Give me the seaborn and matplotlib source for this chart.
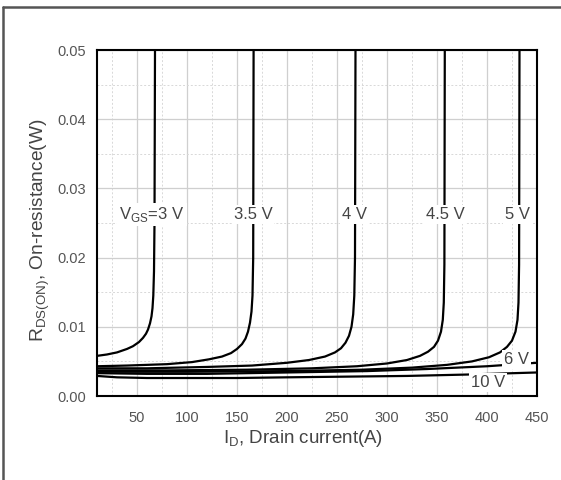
import numpy as np
import pandas as pd
import seaborn as sns
import matplotlib
matplotlib.use("Agg")
import matplotlib.pyplot as plt
from matplotlib.lines import Line2D
from matplotlib.ticker import MultipleLocator, FormatStrFormatter

# On-resistance vs drain current for several gate voltages
i_3v0 = [10, 20, 30, 40, 46, 52, 56, 59, 61, 63, 64.5, 65.5, 66.3, 67, 67.5, 68]
r_3v0 = [0.0058, 0.0060, 0.0063, 0.0068, 0.0072, 0.0078, 0.0084, 0.0090, 0.0096, 0.0105,
         0.0115, 0.0127, 0.0145, 0.018, 0.025, 0.050]

i_3v5 = [10, 40, 80, 105, 122, 135, 144, 150, 155, 158.5, 161, 163, 164.5, 165.5, 166.2, 166.6]
r_3v5 = [0.0043, 0.0044, 0.0046, 0.0049, 0.0053, 0.0057, 0.0062, 0.0068, 0.0075, 0.0083,
         0.0093, 0.0106, 0.0122, 0.0145, 0.020, 0.050]

i_4v0 = [10, 60, 120, 165, 200, 222, 238, 248, 254, 258.5, 262, 264.5, 266.2, 267.3, 268, 268.5]
r_4v0 = [0.0040, 0.0040, 0.0042, 0.0044, 0.0048, 0.0052, 0.0057, 0.0063, 0.0069, 0.0077,
         0.0087, 0.0100, 0.0118, 0.0145, 0.020, 0.050]

i_4v5 = [10, 80, 160, 225, 270, 300, 320, 333, 341, 347, 351, 354, 355.8, 356.8, 357.4, 357.8]
r_4v5 = [0.0037, 0.0037, 0.0038, 0.0040, 0.0043, 0.0047, 0.0052, 0.0058, 0.0064, 0.0071,
         0.0080, 0.0093, 0.0110, 0.0135, 0.019, 0.050]

i_5v0 = [10, 100, 200, 275, 325, 360, 385, 402, 413, 420, 425, 428.5, 430.5, 431.5, 432.1, 432.5]
r_5v0 = [0.0035, 0.0035, 0.0036, 0.0038, 0.0041, 0.0045, 0.0050, 0.0056, 0.0063, 0.0071,
         0.0080, 0.0093, 0.0110, 0.0135, 0.019, 0.050]

i_6v0 = [10, 60, 120, 200, 280, 340, 400, 450]
r_6v0 = [0.0033, 0.0032, 0.0032, 0.0034, 0.0036, 0.0039, 0.0043, 0.0048]

i_10v = [10, 30, 60, 100, 150, 200, 260, 320, 380, 450]
r_10v = [0.0029, 0.0027, 0.0026, 0.0026, 0.0026, 0.0027, 0.0028, 0.0029, 0.0031, 0.0034]

series = [("3", i_3v0, r_3v0), ("3.5", i_3v5, r_3v5), ("4", i_4v0, r_4v0),
          ("4.5", i_4v5, r_4v5), ("5", i_5v0, r_5v0), ("6", i_6v0, r_6v0),
          ("10", i_10v, r_10v)]

frames = [pd.DataFrame({"vgs": name, "current": xs, "rdson": ys}) for name, xs, ys in series]
df = pd.concat(frames, ignore_index=True)

sns.set_style("white")
plt.rcParams["font.family"] = ["Liberation Sans", "DejaVu Sans"]

fig = plt.figure(figsize=(5.61, 4.80), dpi=100)
ax = fig.add_axes([0.1729, 0.175, 0.7843, 0.7208])

sns.lineplot(data=df, x="current", y="rdson", hue="vgs", palette=["black"] * len(series),
             sort=False, estimator=None, legend=False, linewidth=1.6, ax=ax)

ax.set_xlim(10, 450)
ax.set_ylim(0, 0.05)
ax.xaxis.set_major_locator(MultipleLocator(50))
ax.xaxis.set_minor_locator(MultipleLocator(25))
ax.yaxis.set_major_locator(MultipleLocator(0.01))
ax.yaxis.set_minor_locator(MultipleLocator(0.005))
ax.yaxis.set_major_formatter(FormatStrFormatter("%.2f"))

ax.grid(which="major", color="#cfcfcf", linewidth=0.9, linestyle="-")
ax.grid(which="minor", color="#d8d8d8", linewidth=0.7, linestyle=(0, (2, 2)))
ax.set_axisbelow(True)

for sp in ax.spines.values():
    sp.set_color("black")
    sp.set_linewidth(1.5)

ax.tick_params(which="major", direction="out", length=5, width=1.2, color="black",
               labelsize=10.5, labelcolor="#555555")
ax.tick_params(which="minor", direction="out", length=3, width=1.0, color="black")
ax.tick_params(axis="x", which="major", pad=6)
ax.tick_params(axis="y", which="major", pad=3)

ax.set_xlabel("I$_\\mathregular{D}$, Drain current(A)", fontsize=13.5, color="#444444", labelpad=2)
ax.set_ylabel("R$_\\mathregular{DS(ON)}$, On-resistance(W)", fontsize=13.8, color="#444444", labelpad=4)
ax.xaxis.label.set_x(0.468)
ax.yaxis.label.set_y(0.48)

box = dict(facecolor="white", edgecolor="none", pad=1.5)
labels = [("V$_\\mathregular{GS}$=3 V", 65, 0.0262),
          ("3.5 V", 166, 0.0262),
          ("4 V", 268, 0.0262),
          ("4.5 V", 358, 0.0262),
          ("5 V", 431, 0.0262),
          ("6 V", 430, 0.0053),
          ("10 V", 401, 0.0020)]
for txt, x, y in labels:
    ax.text(x, y, txt, ha="center", va="center", fontsize=12, color="#444444", bbox=box, zorder=5)

# outer frame edges
fig.add_artist(Line2D([3 / 561, 1], [1 - 7 / 480, 1 - 7 / 480], transform=fig.transFigure,
                      color="#555555", linewidth=1.8))
fig.add_artist(Line2D([3 / 561, 3 / 561], [0, 1 - 7 / 480], transform=fig.transFigure,
                      color="#555555", linewidth=1.8))

fig.savefig("out.png", dpi=100)
